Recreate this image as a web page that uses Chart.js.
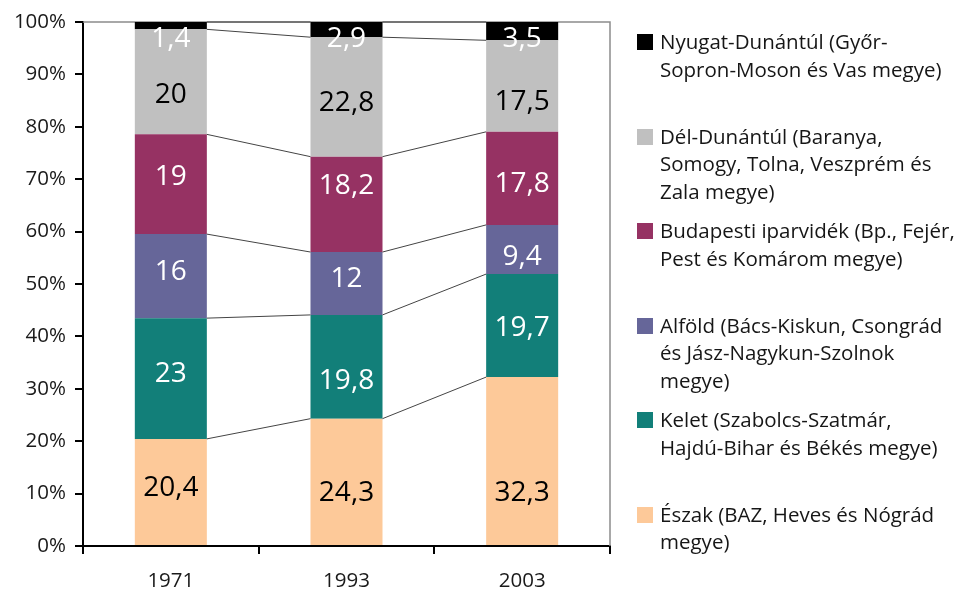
<!DOCTYPE html>
<html lang="hu">
<head>
<meta charset="utf-8">
<script src="https://cdn.jsdelivr.net/npm/chart.js@4.4.1/dist/chart.umd.min.js"></script>
<style>
    html, body { margin: 0; padding: 0; background: #fff; }
    #wrap { position: relative; width: 966px; height: 592px; }
    #legend { position: absolute; left: 637px; top: 28px; font-family: "Open Sans", sans-serif; font-size: 20.5px; color: #161616; }
    .legend-item { position: relative; height: 94.5px; padding-left: 23px; line-height: 27.5px; white-space: nowrap; }
    .legend-box { position: absolute; left: 0; top: 6px; width: 16px; height: 16px; }
</style>
</head>
<body>
<div id="wrap">
    <canvas id="shareChart" width="966" height="592"></canvas>
    <div id="legend"></div>
</div>
<script>
// Years on the category axis
const years = ['1971', '1993', '2003'];

// Region shares, bottom of the stack first
const eszak = [20.4, 24.3, 32.3];
const kelet = [23, 19.8, 19.7];
const alfold = [16, 12, 9.4];
const budapest = [19, 18.2, 17.8];
const delDunantul = [20, 22.8, 17.5];
const nyugatDunantul = [1.4, 2.9, 3.5];

const regionNames = [
    ['Észak (BAZ, Heves és Nógrád', 'megye)'],
    ['Kelet (Szabolcs-Szatmár,', 'Hajdú-Bihar és Békés megye)'],
    ['Alföld (Bács-Kiskun, Csongrád', 'és Jász-Nagykun-Szolnok', 'megye)'],
    ['Budapesti iparvidék (Bp., Fejér,', 'Pest és Komárom megye)'],
    ['Dél-Dunántúl (Baranya,', 'Somogy, Tolna, Veszprém és', 'Zala megye)'],
    ['Nyugat-Dunántúl (Győr-', 'Sopron-Moson és Vas megye)']
];

const regionValues = [eszak, kelet, alfold, budapest, delDunantul, nyugatDunantul];
const regionColors = ['#fdc999', '#127f79', '#666699', '#963263', '#c0c0c0', '#000000'];
const labelColors = ['#000', '#fff', '#fff', '#fff', '#000', '#fff'];

// hand-placed labels: vertical nudge in px from the segment centre
const labelNudge = [
    [-5, 10, 31],
    [-5, 13, 1],
    [-5, -5, 7],
    [-8, -19, 5],
    [12, 5, 15],
    [0, 0, 0]
];

// 100% stacked: every year is scaled to its own total
const totals = years.map((y, i) => regionValues.reduce((sum, arr) => sum + arr[i], 0));

const datasets = regionValues.map((vals, s) => ({
    label: regionNames[s].join(' '),
    data: vals.map((v, i) => v / totals[i] * 100),
    raw: vals,
    backgroundColor: regionColors[s],
    borderWidth: 0,
    barPercentage: 0.41,
    categoryPercentage: 1
}));

// Thin lines joining the segment tops of neighbouring bars
const seriesLines = {
    id: 'seriesLines',
    afterDatasetsDraw(chart) {
        const ctx = chart.ctx;
        ctx.save();
        ctx.strokeStyle = '#444';
        ctx.lineWidth = 1;
        chart.data.datasets.forEach((ds, s) => {
            const bars = chart.getDatasetMeta(s).data;
            for (let i = 0; i < bars.length - 1; i++) {
                const a = bars[i], b = bars[i + 1];
                ctx.beginPath();
                ctx.moveTo(a.x + a.width / 2, a.y);
                ctx.lineTo(b.x - b.width / 2, b.y);
                ctx.stroke();
            }
        });
        ctx.restore();
    }
};

// Value labels on each segment
const segmentLabels = {
    id: 'segmentLabels',
    afterDatasetsDraw(chart) {
        const ctx = chart.ctx;
        const top = chart.chartArea.top;
        ctx.save();
        ctx.font = '28px "Open Sans", sans-serif';
        ctx.textAlign = 'center';
        ctx.textBaseline = 'middle';
        chart.data.datasets.forEach((ds, s) => {
            chart.getDatasetMeta(s).data.forEach((bar, i) => {
                const mid = (bar.y + bar.base) / 2 + labelNudge[s][i];
                const y = Math.max(mid, top + 16);
                ctx.fillStyle = labelColors[s];
                ctx.fillText(String(ds.raw[i]).replace('.', ','), bar.x, y + 1);
            });
        });
        ctx.restore();
    }
};

// Grey frame on the top and right side of the plot area
const plotFrame = {
    id: 'plotFrame',
    beforeDatasetsDraw(chart) {
        const { left, right, top, bottom } = chart.chartArea;
        const ctx = chart.ctx;
        ctx.save();
        ctx.strokeStyle = '#8c8c8c';
        ctx.lineWidth = 1.5;
        ctx.beginPath();
        ctx.moveTo(left, top);
        ctx.lineTo(right, top);
        ctx.lineTo(right, bottom);
        ctx.stroke();
        ctx.restore();
    }
};

const axisFont = { family: '"Open Sans", sans-serif', size: 20.5 };

new Chart(document.getElementById('shareChart'), {
    type: 'bar',
    data: { labels: years, datasets: datasets },
    options: {
        responsive: false,
        animation: false,
        layout: { padding: { top: 22, right: 356, left: 0, bottom: 0 } },
        plugins: {
            legend: { display: false },
            tooltip: { enabled: false }
        },
        scales: {
            x: {
                stacked: true,
                afterFit: function (scale) { scale.height = 46; },
                grid: { drawOnChartArea: false, tickLength: 8, tickColor: '#000', lineWidth: 2, offset: true },
                border: { color: '#000', width: 2 },
                ticks: { color: '#1a1a1a', font: axisFont, padding: 15 }
            },
            y: {
                stacked: true,
                min: 0,
                max: 100,
                afterFit: function (scale) { scale.width = 83; },
                grid: { drawOnChartArea: false, tickLength: 8, tickColor: '#000', lineWidth: 2 },
                border: { color: '#000', width: 2 },
                ticks: {
                    stepSize: 10,
                    color: '#1a1a1a',
                    font: axisFont,
                    padding: 9,
                    callback: function (value) { return value + '%'; }
                }
            }
        }
    },
    plugins: [plotFrame, seriesLines, segmentLabels]
});

// Legend on the right, top of the stack first
const legend = document.getElementById('legend');
legend.innerHTML = regionNames.map((lines, s) => `
    <div class="legend-item">
        <span class="legend-box" style="background:${regionColors[s]}"></span>
        ${lines.join('<br>')}
    </div>
`).reverse().join('');
</script>
</body>
</html>
